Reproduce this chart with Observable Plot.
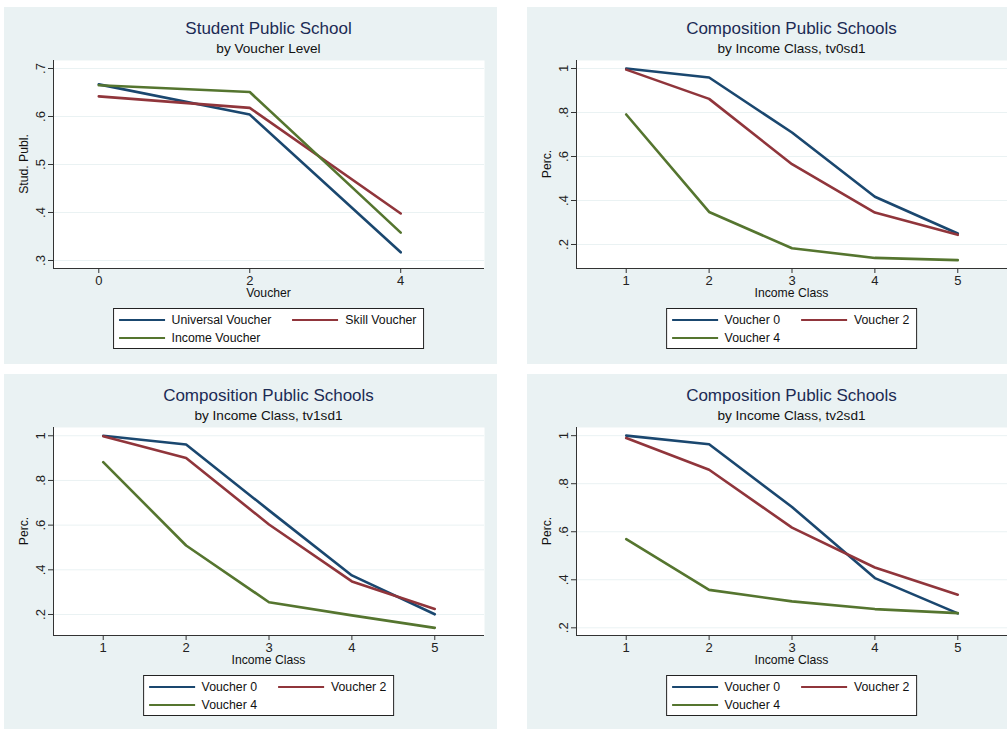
<!DOCTYPE html>
<html><head><meta charset="utf-8">
<script src="https://cdn.jsdelivr.net/npm/d3@7"></script>
<script src="https://cdn.jsdelivr.net/npm/@observablehq/plot@0.6"></script>
<style>
body{margin:0;background:#fff;font-family:"Liberation Sans",Arial,sans-serif;}
#root{position:relative;width:1007px;height:729px;overflow:hidden;background:#fff;}
.panel{position:absolute;width:493px;height:357px;background:#eaf2f3;}
.title{position:absolute;left:49px;width:431px;text-align:center;color:#1c2b55;font-size:17px;line-height:20px;top:12px;white-space:nowrap;}
.subtitle{position:absolute;left:49px;width:431px;text-align:center;color:#111;font-size:13.6px;line-height:16px;top:34px;white-space:nowrap;}
.xlabel{position:absolute;left:49px;width:431px;text-align:center;color:#111;font-size:12.2px;line-height:14px;top:279px;white-space:nowrap;}
.ylabel{position:absolute;left:-84.5px;top:150px;width:208px;height:14px;text-align:center;color:#111;font-size:12.2px;line-height:14px;transform:rotate(-90deg);white-space:nowrap;}
.plot{position:absolute;left:0;top:45px;}
.legend{position:absolute;top:301px;left:264.5px;transform:translateX(-50%);background:#fff;border:1px solid #222;padding:2px 7px 1px 5px;display:grid;grid-template-columns:auto auto;grid-auto-rows:18px;column-gap:21px;font-size:12.3px;color:#111;white-space:nowrap;}
.item{display:flex;align-items:center;}
.swatch{display:inline-block;width:46px;height:2.6px;margin-right:7px;}
</style>
</head><body>
<div id="root"></div>
<script>
// ---------- data ----------
const voucherLevels = [0, 2, 4];
const universalVoucher = [0.667, 0.604, 0.317];
const skillVoucher = [0.642, 0.618, 0.398];
const incomeVoucher = [0.665, 0.651, 0.358];

const incomeClasses = [1, 2, 3, 4, 5];
const tv0sd1_voucher0 = [1.000, 0.959, 0.709, 0.417, 0.250];
const tv0sd1_voucher2 = [0.995, 0.862, 0.565, 0.345, 0.244];
const tv0sd1_voucher4 = [0.791, 0.348, 0.183, 0.139, 0.129];
const tv1sd1_voucher0 = [1.000, 0.961, 0.666, 0.375, 0.201];
const tv1sd1_voucher2 = [0.998, 0.900, 0.603, 0.348, 0.225];
const tv1sd1_voucher4 = [0.882, 0.509, 0.255, 0.196, 0.140];
const tv2sd1_voucher0 = [1.000, 0.964, 0.703, 0.407, 0.260];
const tv2sd1_voucher2 = [0.990, 0.858, 0.617, 0.451, 0.338];
const tv2sd1_voucher4 = [0.569, 0.358, 0.310, 0.278, 0.261];

const seriesNames1 = ["Universal Voucher", "Skill Voucher", "Income Voucher"];
const seriesNames2 = ["Voucher 0", "Voucher 2", "Voucher 4"];
const seriesColors = ["#1a476f", "#90353b", "#55752f"];

const voucherTicks = [0, 2, 4];
const incomeTicks = [1, 2, 3, 4, 5];
const studTicks = [0.3, 0.4, 0.5, 0.6, 0.7];
const percTicks = [0.2, 0.4, 0.6, 0.8, 1];

// axis ranges (Stata plot region extents)
const xRange1 = [-0.6, 5.11];
const xRange2 = [0.4, 5.6];
const yRange1 = [0.2833, 0.7167];
const yRange2 = [0.0909, 1.0364];
const yRange3 = [0.106, 1.037];
const yRange4 = [0.168, 1.034];

// ---------- build ----------
function rows(xs, names, arrays) {
  const out = [];
  names.forEach((n, k) => xs.forEach((x, i) => out.push({x, y: arrays[k][i], series: n})));
  return out;
}

const panels = [
  {left: 4, top: 7, title: "Student Public School", subtitle: "by Voucher Level", xlabel: "Voucher", ylabel: "Stud. Publ.",
   data: rows(voucherLevels, seriesNames1, [universalVoucher, skillVoucher, incomeVoucher]),
   names: seriesNames1, xTicks: voucherTicks, yTicks: studTicks, xDom: xRange1, yDom: yRange1},
  {left: 527, top: 7, title: "Composition Public Schools", subtitle: "by Income Class, tv0sd1", xlabel: "Income Class", ylabel: "Perc.",
   data: rows(incomeClasses, seriesNames2, [tv0sd1_voucher0, tv0sd1_voucher2, tv0sd1_voucher4]),
   names: seriesNames2, xTicks: incomeTicks, yTicks: percTicks, xDom: xRange2, yDom: yRange2},
  {left: 4, top: 374, title: "Composition Public Schools", subtitle: "by Income Class, tv1sd1", xlabel: "Income Class", ylabel: "Perc.",
   data: rows(incomeClasses, seriesNames2, [tv1sd1_voucher0, tv1sd1_voucher2, tv1sd1_voucher4]),
   names: seriesNames2, xTicks: incomeTicks, yTicks: percTicks, xDom: xRange2, yDom: yRange3},
  {left: 527, top: 374, title: "Composition Public Schools", subtitle: "by Income Class, tv2sd1", xlabel: "Income Class", ylabel: "Perc.",
   data: rows(incomeClasses, seriesNames2, [tv2sd1_voucher0, tv2sd1_voucher2, tv2sd1_voucher4]),
   names: seriesNames2, xTicks: incomeTicks, yTicks: percTicks, xDom: xRange2, yDom: yRange4}
];

const fmt = d => String(+d.toFixed(4)).replace(/^0\./, ".");
const root = document.getElementById("root");

for (const p of panels) {
  const div = document.createElement("div");
  div.className = "panel";
  div.style.left = p.left + "px";
  div.style.top = p.top + "px";
  root.appendChild(div);

  for (const [cls, txt] of [["title", p.title], ["subtitle", p.subtitle], ["xlabel", p.xlabel], ["ylabel", p.ylabel]]) {
    const t = document.createElement("div");
    t.className = cls;
    t.textContent = txt;
    div.appendChild(t);
  }

  const chart = Plot.plot({
    width: 493, height: 236,
    marginTop: 8, marginLeft: 49, marginRight: 13, marginBottom: 20,
    style: {background: "transparent", fontFamily: "'Liberation Sans', Arial, sans-serif", fontSize: "13px", color: "#222", overflow: "visible"},
    x: {domain: p.xDom},
    y: {domain: p.yDom},
    color: {domain: p.names, range: seriesColors},
    marks: [
      Plot.frame({fill: "white", stroke: "none"}),
      Plot.gridY(p.yTicks, {stroke: "#eaf2f3", strokeOpacity: 1, strokeWidth: 1}),
      Plot.line(p.data, {x: "x", y: "y", stroke: "series", z: "series", strokeWidth: 2.6, strokeLinejoin: "round"}),
      Plot.ruleY([p.yDom[0]], {stroke: "#333", strokeWidth: 1}),
      Plot.ruleX([p.xDom[0]], {stroke: "#333", strokeWidth: 1}),
      Plot.axisX(p.xTicks, {tickSize: 5, tickPadding: 2, label: null, stroke: "#333", fontSize: 13, tickFormat: d => String(d)}),
      Plot.axisY(p.yTicks, {tickSize: 5, tickPadding: 4, tickRotate: -90, label: null, stroke: "#333", fontSize: 13, tickFormat: fmt})
    ]
  });
  chart.classList.add("plot");
  div.appendChild(chart);

  const leg = document.createElement("div");
  leg.className = "legend";
  p.names.forEach((n, i) => {
    const it = document.createElement("div");
    it.className = "item";
    const sw = document.createElement("span");
    sw.className = "swatch";
    sw.style.background = seriesColors[i];
    const tx = document.createElement("span");
    tx.textContent = n;
    it.appendChild(sw); it.appendChild(tx);
    leg.appendChild(it);
  });
  div.appendChild(leg);
}
</script>
</body></html>
